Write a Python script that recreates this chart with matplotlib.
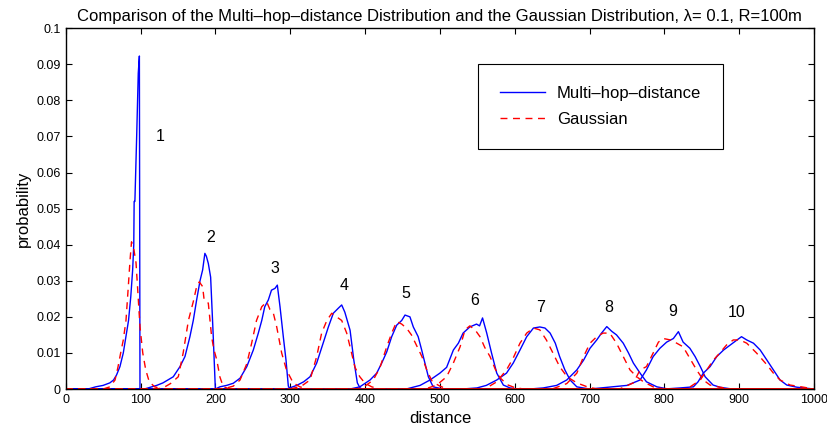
import matplotlib
matplotlib.use('Agg')
from matplotlib import pyplot as plt

plt.rcParams['font.family'] = ['Liberation Sans', 'DejaVu Sans']

# Multi-hop-distance curves (blue), one list per hop
mh_x = [
    [0, 30, 40, 50, 59, 64, 68, 72.5, 77, 80.5, 84, 87, 89.5, 91, 91.5, 92.5, 95, 97, 98.5, 99.3, 1000],
    [0, 105, 121.6, 130, 143.8, 152.7, 159.4, 166, 170.5, 175, 179.5, 183, 186, 188, 190.6, 193.7, 197, 200, 1000],
    [0, 200, 206, 215, 224, 233, 242, 250.7, 257.4, 262, 266, 270.8, 275, 279.7, 282.8, 286.4, 290.8, 294.4, 297.5, 300, 1000],
    [0, 295, 308.7, 318, 326.5, 335.4, 344, 351, 357.6, 364.3, 368.8, 373, 380, 385, 389.7, 393.3, 396, 1000],
    [0, 380, 393, 406.7, 415.6, 422.3, 429, 435.6, 442.3, 449, 453.4, 460, 464.5, 471, 475.7, 480, 484.6, 491, 500, 510, 1000],
    [0, 455, 473.5, 486.8, 500, 509, 518, 524.7, 531, 540, 549, 553, 557, 562.6, 569, 576, 584.8, 593.7, 605, 1000],
    [0, 530, 549.5, 562, 576, 589, 598, 607, 616, 625, 633.5, 640.4, 647.3, 654.2, 660, 667, 674, 683, 700, 1000],
    [0, 620, 638, 656, 669.5, 683, 692, 700.6, 709.6, 716, 723, 729.6, 736, 745, 752, 758.5, 767.5, 776, 790, 805, 1000],
    [0, 700, 730, 750, 767.5, 776, 785, 794, 803, 812, 818.7, 825, 834, 841, 848, 854.4, 865, 874, 890, 1000],
    [0, 800, 821, 838.7, 845, 852, 861, 870, 879, 888, 897, 903, 910, 919, 928, 937, 945.6, 954.5, 963.5, 977, 1000],
]
mh_p = [
    [0, 0, 0.0006, 0.001, 0.0017, 0.0025, 0.0039, 0.0062, 0.010, 0.0145, 0.019, 0.0256, 0.033, 0.040, 0.052, 0.052, 0.071, 0.0875, 0.0923, 0, 0],
    [0, 0, 0.001, 0.0017, 0.0034, 0.0062, 0.009, 0.0145, 0.019, 0.0247, 0.030, 0.033, 0.0376, 0.0368, 0.0348, 0.031, 0.0155, 0, 0],
    [0, 0, 0.0006, 0.001, 0.0016, 0.003, 0.0062, 0.0108, 0.0155, 0.019, 0.0228, 0.0247, 0.0274, 0.0279, 0.0288, 0.0228, 0.0145, 0.008, 0.0008, 0, 0],
    [0, 0, 0.001, 0.002, 0.0034, 0.0072, 0.0127, 0.0172, 0.021, 0.0224, 0.0233, 0.0213, 0.0163, 0.008, 0.0017, 0.0003, 0, 0],
    [0, 0, 0.0006, 0.0025, 0.0044, 0.0072, 0.0103, 0.0145, 0.0177, 0.019, 0.0205, 0.020, 0.0172, 0.0145, 0.0108, 0.0072, 0.0034, 0.0006, 0.0002, 0, 0],
    [0, 0, 0.001, 0.0025, 0.0044, 0.006, 0.0108, 0.0127, 0.0155, 0.0172, 0.018, 0.0175, 0.0197, 0.0155, 0.010, 0.0044, 0.0011, 0.0003, 0, 0],
    [0, 0, 0.0003, 0.001, 0.0025, 0.0044, 0.0072, 0.0108, 0.0145, 0.0169, 0.0172, 0.0169, 0.0155, 0.0127, 0.009, 0.0053, 0.0025, 0.0006, 0, 0],
    [0, 0, 0.0003, 0.001, 0.0025, 0.0053, 0.008, 0.0113, 0.0136, 0.0155, 0.0173, 0.016, 0.015, 0.0127, 0.010, 0.0072, 0.0044, 0.002, 0.0006, 0, 0],
    [0, 0, 0.0006, 0.001, 0.0025, 0.0053, 0.009, 0.0113, 0.013, 0.014, 0.0159, 0.013, 0.0113, 0.009, 0.0062, 0.0034, 0.0011, 0.0005, 0, 0],
    [0, 0, 0.0003, 0.0006, 0.002, 0.0044, 0.0062, 0.009, 0.0108, 0.0122, 0.0136, 0.0145, 0.0136, 0.0127, 0.0108, 0.008, 0.0053, 0.0025, 0.0011, 0.0005, 0],
]

# Gaussian curves (red dashed)
gs_x = [
    [0, 50, 59, 66, 70, 73.5, 77, 80.6, 83.7, 86, 88, 91.3, 94, 96, 99.3, 103, 107, 111.7, 119, 130, 1000],
    [0, 120, 130, 140, 150.5, 157, 164, 170.5, 175, 178.5, 183, 185, 190.6, 195, 198, 202, 206, 210.6, 220, 1000],
    [0, 210, 224, 233, 242, 248.5, 255, 262, 268.6, 273, 277.4, 282, 288.6, 295, 304, 313, 325, 1000],
    [0, 300, 315, 326.5, 335.4, 342, 349, 355.5, 362, 368.8, 375.5, 380, 386.6, 393, 400, 409, 420, 1000],
    [0, 390, 400, 411, 420, 429, 435.6, 442.3, 449, 455.7, 462, 469, 476, 483, 490, 500, 510, 1000],
    [0, 480, 495.8, 509, 518, 527, 533.6, 540, 547, 553.6, 560, 567, 574, 581, 590, 600, 612, 1000],
    [0, 560, 576, 589, 598, 607, 616, 625, 633.5, 642.3, 651, 660, 670, 683, 697, 710, 1000],
    [0, 650, 669.5, 683, 692, 700.6, 709.6, 718, 727, 736, 745, 754, 763, 772, 785, 800, 1000],
    [0, 740, 758.5, 767.5, 776, 785, 792, 798.6, 808, 816.5, 825, 834, 843, 852, 861, 874, 890, 1000],
    [0, 830, 848, 856.6, 865.4, 874, 883, 892, 901, 910, 923, 937, 945.6, 954.5, 968, 986, 1000],
]
gs_p = [
    [0, 0, 0.0006, 0.0025, 0.0062, 0.010, 0.0136, 0.019, 0.0284, 0.0357, 0.0408, 0.0385, 0.035, 0.0284, 0.0173, 0.010, 0.0053, 0.002, 0.0006, 0, 0],
    [0, 0, 0.0003, 0.0015, 0.0034, 0.010, 0.019, 0.0242, 0.0284, 0.0297, 0.0284, 0.0247, 0.0238, 0.0145, 0.011, 0.008, 0.0034, 0.0006, 0, 0],
    [0, 0, 0.0008, 0.0025, 0.007, 0.0127, 0.019, 0.0228, 0.0242, 0.022, 0.0211, 0.0172, 0.010, 0.0053, 0.0017, 0.0006, 0, 0],
    [0, 0, 0.0008, 0.0025, 0.009, 0.0155, 0.019, 0.021, 0.020, 0.019, 0.0155, 0.0117, 0.006, 0.0034, 0.0016, 0.0006, 0, 0],
    [0, 0, 0.0008, 0.0025, 0.006, 0.0117, 0.0155, 0.0187, 0.018, 0.0168, 0.015, 0.012, 0.009, 0.005, 0.002, 0.0008, 0, 0],
    [0, 0, 0.0011, 0.0034, 0.0072, 0.0117, 0.0164, 0.0175, 0.0164, 0.0145, 0.0115, 0.009, 0.0055, 0.003, 0.0012, 0.0004, 0, 0],
    [0, 0, 0.002, 0.0053, 0.0086, 0.0127, 0.0155, 0.0169, 0.0164, 0.0136, 0.010, 0.0062, 0.0034, 0.0017, 0.0006, 0, 0],
    [0, 0, 0.0015, 0.0044, 0.009, 0.0127, 0.0145, 0.0155, 0.0155, 0.0127, 0.009, 0.0053, 0.0034, 0.002, 0.0006, 0, 0],
    [0, 0, 0.0017, 0.0053, 0.0062, 0.010, 0.013, 0.014, 0.0136, 0.0127, 0.0117, 0.0085, 0.0053, 0.0025, 0.0011, 0.0005, 0, 0],
    [0, 0, 0.0025, 0.0053, 0.008, 0.010, 0.0122, 0.0136, 0.0136, 0.0127, 0.010, 0.0067, 0.0044, 0.0025, 0.0011, 0.0005, 0],
]

# hop number labels
hop_labels = ['1', '2', '3', '4', '5', '6', '7', '8', '9', '10']
label_x = [126, 194, 280, 372, 455, 546, 634, 725, 811, 896]
label_y = [0.0699, 0.0419, 0.0335, 0.0288, 0.0266, 0.0244, 0.0227, 0.0225, 0.0216, 0.0213]

fig = plt.figure(figsize=(8.27, 4.29), dpi=100)
ax = fig.add_axes([0.0794, 0.0932, 0.905, 0.841])

for i in range(len(mh_x)):
    ax.plot(mh_x[i], mh_p[i], '-', color='blue', linewidth=1.0,
            label='Multi–hop–distance' if i == 0 else None)
for i in range(len(gs_x)):
    ax.plot(gs_x[i], gs_p[i], '--', color='red', linewidth=1.0, dashes=(5, 4),
            label='Gaussian' if i == 0 else None)

for i in range(len(hop_labels)):
    ax.text(label_x[i], label_y[i], hop_labels[i], fontsize=11.5,
            ha='center', va='center')

ax.set_xlim(0, 1000)
ax.set_ylim(0, 0.1)
ax.set_xticks(range(0, 1001, 100))
ax.set_yticks([i / 100 for i in range(11)])
ax.set_yticklabels(['0', '0.01', '0.02', '0.03', '0.04', '0.05', '0.06',
                    '0.07', '0.08', '0.09', '0.1'])
ax.tick_params(direction='in', top=True, right=True, length=4, labelsize=9)
for s in ax.spines.values():
    s.set_linewidth(1.0)

ax.set_xlabel('distance', fontsize=12, labelpad=4)
ax.set_ylabel('probability', fontsize=12, labelpad=4)
ax.set_title('Comparison of the Multi–hop–distance Distribution and the Gaussian '
             'Distribution, λ= 0.1, R=100m', fontsize=12, pad=5)

leg = ax.legend(loc='upper left', bbox_to_anchor=(0.551, 0.901), fontsize=12,
                fancybox=False, edgecolor='black', framealpha=1, borderpad=1.3,
                handlelength=2.7, labelspacing=0.68, handletextpad=0.72,
                borderaxespad=0)
leg.get_frame().set_linewidth(0.8)

fig.savefig('out.png', dpi=100)
